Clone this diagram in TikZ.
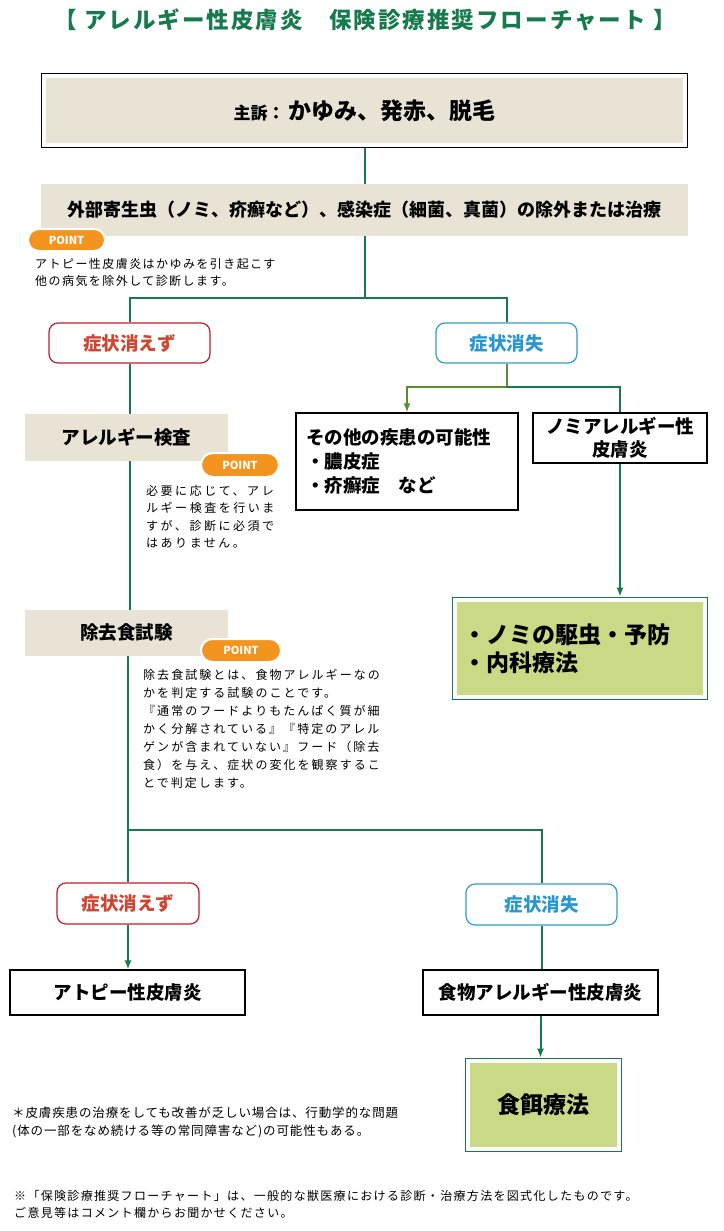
\documentclass[tikz,border=0pt]{standalone}
\usepackage{fontspec}
\setmainfont{Noto Sans CJK JP}
\usetikzlibrary{fit}
\usetikzlibrary{positioning}
\usetikzlibrary{arrows.meta}
\usetikzlibrary{shapes.misc}
\usetikzlibrary{calc}
\definecolor{flowgreen}{RGB}{22,122,76}
\definecolor{arrowolive}{RGB}{90,140,50}
\definecolor{beige}{RGB}{232,227,213}
\definecolor{leaf}{RGB}{201,217,133}
\definecolor{redline}{RGB}{192,30,40}
\definecolor{redtext}{RGB}{208,68,50}
\definecolor{blueline}{RGB}{50,155,210}
\definecolor{bluetext}{RGB}{40,150,210}
\definecolor{pointorange}{RGB}{243,148,30}

\begin{document}
\begin{tikzpicture}[
            x = 1pt, y = -1pt, % pixel grid, y going down
            > = {Latex[length=9pt, width=7pt]}, % arrow head style
            link/.style = {draw = flowgreen, line width = 2pt},
            oliveline/.style = {draw = arrowolive, line width = 2pt},
            boxfont/.style = {font = \bfseries\fontsize{18.5}{23}\selectfont},
            bigfont/.style = {font = \bfseries\fontsize{23}{28}\selectfont}
        ]

        \tikzstyle{beigebox}=[fill = beige, inner sep = 0pt, boxfont]
        \tikzstyle{plainbox}=[draw = black, line width = 1.2pt, fill = white, inner sep = 0pt, boxfont]
        \tikzstyle{leafbox}=[fill = leaf, inner sep = 0pt, bigfont]
        \tikzstyle{framebox}=[draw, line width = 1.2pt, inner sep = 4.5pt]
        \tikzstyle{nosym}=[rectangle, rounded corners = 9pt, draw = redline, text = redtext,
            line width = 1.2pt, fill = white, boxfont]
        \tikzstyle{gone}=[rectangle, rounded corners = 9pt, draw = blueline, text = bluetext,
            line width = 1.2pt, fill = white, boxfont]
        \tikzstyle{pointtag}=[rounded rectangle, fill = pointorange, draw = white, line width = 2pt,
            text = white, inner sep = 0pt, font = \bfseries\fontsize{11}{13}\selectfont]
        \tikzstyle{notetext}=[anchor = north west, align = left, inner sep = 0pt]

        \useasboundingbox (0,0) rectangle (723,1231);

        % title
        \node[text = flowgreen, font = \bfseries\fontsize{22.5}{26}\selectfont\addfontfeature{LetterSpace=9}] (title) at (365,20)
            {【 アレルギー性皮膚炎　保険診療推奨フローチャート 】};

        % first step
        \node[beigebox, minimum width = 637pt, minimum height = 65pt] (chief) at (364.5,110.5)
            {{\fontsize{17}{20}\selectfont 主訴：}\hspace{4pt}{\fontsize{23}{28}\selectfont かゆみ、発赤、脱毛}};
        \node[framebox, fit = (chief)] (chiefframe) {};

        \node[beigebox, minimum width = 647pt, minimum height = 52pt] (exclusion) at (364.5,210)
            {\fontsize{18}{22}\selectfont 外部寄生虫（ノミ、疥癬など）、感染症（細菌、真菌）の除外または治療};
        \node[pointtag, minimum width = 77pt, minimum height = 22pt] (point1) at (66.5,240) {POINT};
        \node[notetext, font = \fontsize{12}{17}\selectfont\addfontfeature{LetterSpace=12}] (note1) at (35,258)
            {アトピー性皮膚炎はかゆみを引き起こす\\他の病気を除外して診断します。};

        \coordinate (split1) at (364.5,298);
        \path[link] (chiefframe.south) -- (exclusion.north);
        \path[link] (exclusion.south) -- (split1);

        % first result
        \node[nosym, minimum width = 161pt, minimum height = 40pt] (nosym1) at (129.5,343) {症状消えず};
        \node[gone, minimum width = 141pt, minimum height = 40pt] (gone1) at (506.5,343) {症状消失};
        \path[link] (split1) -| (nosym1.north);
        \path[link] (split1) -| (gone1.north);

        % symptoms gone
        \coordinate (split2) at (506.5,387);
        \node[plainbox, minimum width = 222pt, minimum height = 97pt, align = left,
            text width = 202pt, font = \bfseries\fontsize{18.5}{24}\selectfont] (other) at (407,461.5)
            {その他の疾患の可能性\\・膿皮症\\・疥癬症　など};
        \node[plainbox, minimum width = 174pt, minimum height = 50pt, align = center] (flea) at (620,438)
            {ノミアレルギー性\\皮膚炎};
        \node[leafbox, minimum width = 246pt, minimum height = 93pt, align = left, text width = 234pt] (fleatx) at (580,648.5)
            {・ノミの駆虫・予防\\・内科療法};
        \node[framebox, draw = flowgreen, fit = (fleatx)] (fleatxframe) {};

        \path[oliveline] (gone1.south) -- (split2);
        \path[oliveline, ->] (split2) -| (other.north);
        \path[link] (split2) -| (flea.north);
        \path[link, ->] (flea.south) -- (flea.south |- fleatxframe.north);

        % symptoms remain: tests
        \node[beigebox, minimum width = 203pt, minimum height = 47pt] (allergy) at (126.5,437.5) {アレルギー検査};
        \node[pointtag, minimum width = 78pt, minimum height = 24pt] (point2) at (240,465) {POINT};
        \node[notetext, font = \fontsize{12}{17.5}\selectfont\addfontfeature{LetterSpace=21}] (note2) at (146,485)
            {必要に応じて、アレ\\ルギー検査を行いま\\すが、診断に必須で\\はありません。};

        \node[beigebox, minimum width = 203pt, minimum height = 46pt] (elim) at (126.5,633) {除去食試験};
        \node[pointtag, minimum width = 80pt, minimum height = 23pt] (point3) at (241,650.5) {POINT};
        \node[notetext, font = \fontsize{12}{18}\selectfont\addfontfeature{LetterSpace=17}] (note3) at (143,669)
            {除去食試験とは、食物アレルギーなの\\かを判定する試験のことです。\\『通常のフードよりもたんぱく質が細\\かく分解されている』『特定のアレル\\ゲンが含まれていない』フード（除去\\食）を与え、症状の変化を観察するこ\\とで判定します。};

        \path[link] (nosym1.south) -- (nosym1.south |- allergy.north);
        \path[link] (allergy.south -| nosym1.south) -- (nosym1.south |- elim.north);

        % second result
        \coordinate (split3) at (128,830);
        \node[nosym, minimum width = 142pt, minimum height = 41pt] (nosym2) at (128,903.5) {症状消えず};
        \node[gone, minimum width = 151pt, minimum height = 41pt] (gone2) at (541.5,904.5) {症状消失};
        \path[link] (elim.south -| split3) -- (split3);
        \path[link] (split3) -- (nosym2.north);
        \path[link] (split3) -| (gone2.north);

        % diagnosis
        \node[plainbox, minimum width = 235pt, minimum height = 45pt] (atopy) at (127.5,992.5) {アトピー性皮膚炎};
        \node[plainbox, minimum width = 235pt, minimum height = 45pt] (food) at (540.5,992.5) {食物アレルギー性皮膚炎};
        \node[leafbox, minimum width = 147pt, minimum height = 84pt] (diet) at (543.5,1105) {食餌療法};
        \node[framebox, draw = flowgreen, fit = (diet)] (dietframe) {};

        \path[link, ->] (nosym2.south) -- (nosym2.south |- atopy.north);
        \path[link] (gone2.south) -- (gone2.south |- food.north);
        \path[link, ->] (food.south) -- (food.south |- dietframe.north);

        % remarks
        \node[notetext, font = \fontsize{12.5}{18}\selectfont\addfontfeature{LetterSpace=7}] (remark) at (12,1107)
            {＊皮膚疾患の治療をしても改善が乏しい場合は、行動学的な問題\\(体の一部をなめ続ける等の常同障害など)の可能性もある。};
        \node[notetext, font = \fontsize{12}{17}\selectfont\addfontfeature{LetterSpace=11}] (footer) at (14,1190)
            {※「保険診療推奨フローチャート」は、一般的な獣医療における診断・治療方法を図式化したものです。\\ご意見等はコメント欄からお聞かせください。};

\end{tikzpicture}
\end{document}
